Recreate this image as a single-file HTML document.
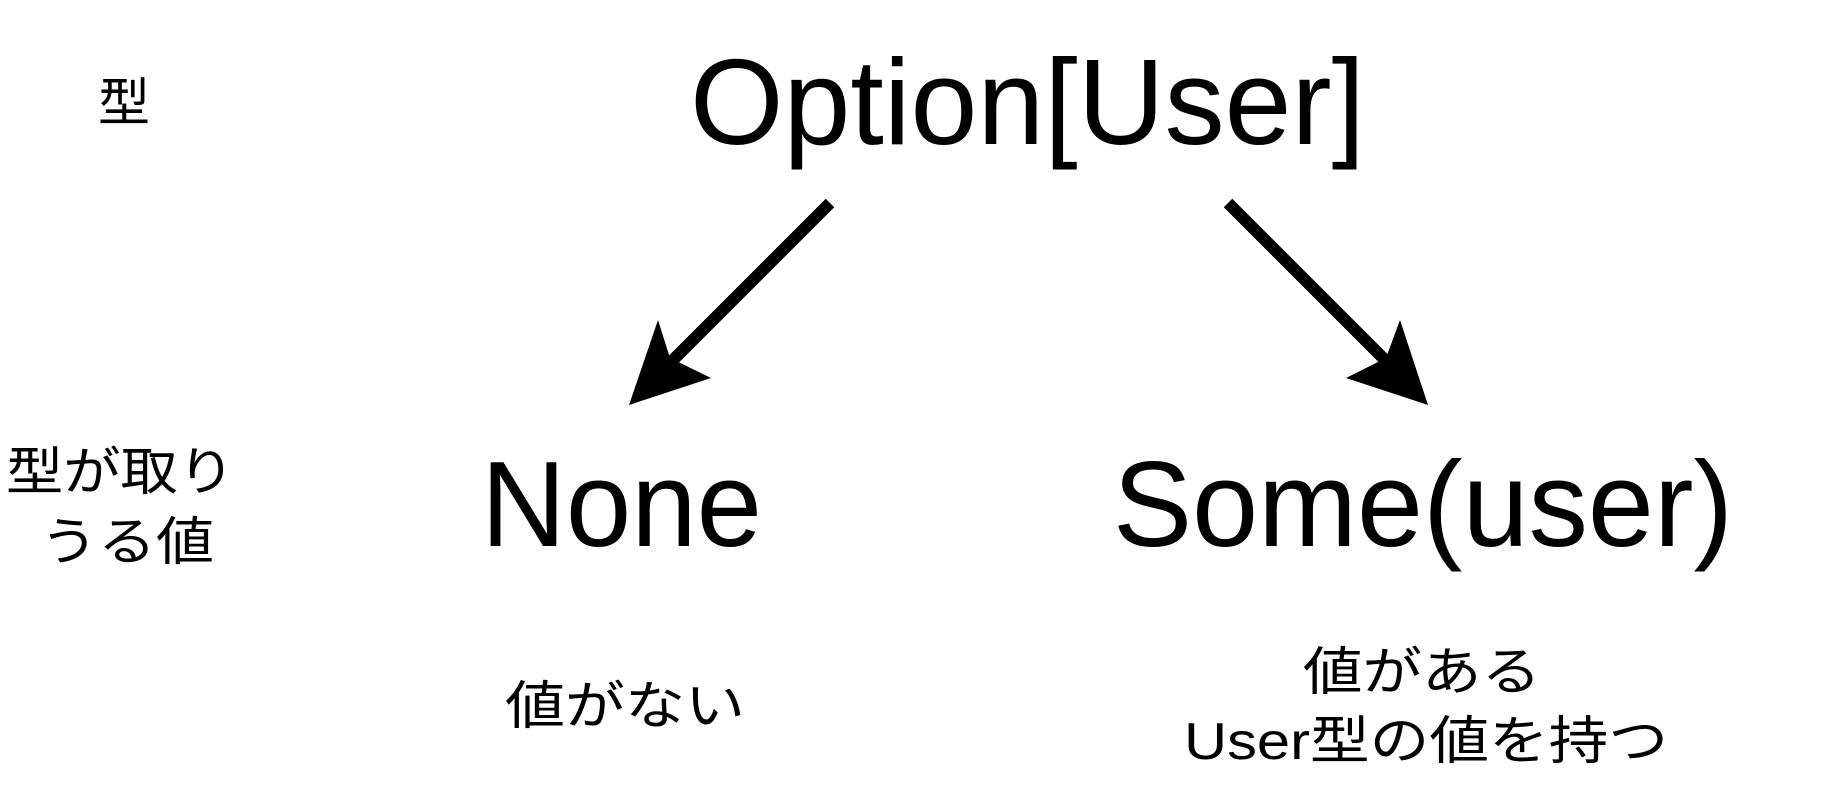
<!DOCTYPE html>
<html><head><meta charset="utf-8"><style>
html,body{margin:0;padding:0;background:#fff;}
svg{display:block;}
text{font-family:"Liberation Sans","Noto Sans CJK JP",sans-serif;fill:#000;}
</style></head><body>
<svg width="1830" height="805" viewBox="0 0 1830 805">
<text x="690" y="144" font-size="122" textLength="675" lengthAdjust="spacingAndGlyphs">Option[User]</text>
<text x="98" y="121" font-size="52" textLength="52" lengthAdjust="spacingAndGlyphs">型</text>
<line x1="830" y1="203" x2="668" y2="365" stroke="#000" stroke-width="12"/>
<polygon points="629,405 658,320 670,358 711,378" fill="#000"/>
<line x1="1228" y1="203" x2="1388" y2="363" stroke="#000" stroke-width="12"/>
<polygon points="1428,405 1400,320 1386,358 1346,378" fill="#000"/>
<text x="481" y="546" font-size="122" textLength="281" lengthAdjust="spacingAndGlyphs">None</text>
<text x="1113" y="546" font-size="122" textLength="620" lengthAdjust="spacingAndGlyphs">Some(user)</text>
<text x="6" y="490" font-size="52" textLength="229" lengthAdjust="spacingAndGlyphs">型が取り</text>
<text x="40" y="560" font-size="52" textLength="174" lengthAdjust="spacingAndGlyphs">うる値</text>
<text x="505" y="724" font-size="52" textLength="240" lengthAdjust="spacingAndGlyphs">値がない</text>
<text x="1303" y="690" font-size="52" textLength="238" lengthAdjust="spacingAndGlyphs">値がある</text>
<text x="1184" y="759" font-size="52" textLength="484" lengthAdjust="spacingAndGlyphs">User型の値を持つ</text>
</svg>
</body></html>
